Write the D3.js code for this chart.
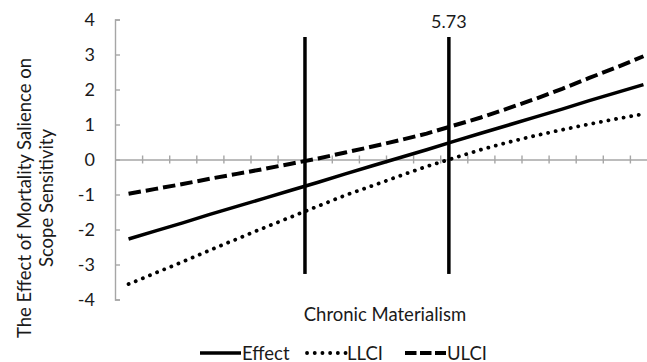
<!doctype html>
<html>
<head>
<meta charset="utf-8">
<style>
  body { margin:0; background:#fff; }
  svg { display:block; }
  text { font-family: Lato, "Liberation Sans", sans-serif; fill:#1a1a1a; }
  .axis path, .axis line { stroke:#a6a6a6; stroke-width:1.4px; }
  .axis text { font-size:18px; }
</style>
<script src="https://cdn.jsdelivr.net/npm/d3@7"></script>
</head>
<body>
<svg id="chart" width="647" height="362"></svg>
<script>
// 20 categories of chronic materialism (by position)
var effect = [-2.27,-2.04,-1.81,-1.57,-1.34,-1.11,-0.88,-0.65,-0.41,-0.18,0.05,0.28,0.52,0.75,0.98,1.21,1.44,1.68,1.91,2.14]
var llci   = [-3.56,-3.24,-2.92,-2.59,-2.27,-1.95,-1.64,-1.33,-1.02,-0.75,-0.47,-0.20,0.04,0.28,0.49,0.68,0.85,1.01,1.16,1.30]
var ulci   = [-0.98,-0.84,-0.70,-0.55,-0.41,-0.27,-0.12,0.03,0.20,0.37,0.55,0.74,0.97,1.20,1.46,1.73,2.02,2.33,2.63,2.95]
var seriesNames = ["Effect", "LLCI", "ULCI"]
var yTicks = [-4,-3,-2,-1,0,1,2,3,4]
// Johnson-Neyman marker lines (category position) and their labels
var jnPos = [7.01, 12.32]
var jnLabels = ["", "5.73"]
var jnRange = [-3.27, 3.5]

var svg = d3.select("#chart")
var x = d3.scaleLinear().domain([0, 20]).range([115, 657])
var y = d3.scaleLinear().domain([-4, 4]).range([299.5, 19.5])

// y axis
var gy = svg.append("g").attr("class","axis")
  .attr("transform","translate(115,0)")
  .call(d3.axisLeft(y).tickValues(yTicks).tickSize(-5).tickSizeOuter(-5).tickPadding(20)
    .tickFormat(function(d){ return String(d) }))
gy.selectAll("text").style("text-anchor","end")

// x axis along zero, ticks crossing the line
var gx = svg.append("g").attr("class","axis")
  .attr("transform","translate(0," + y(0) + ")")
  .call(d3.axisBottom(x).tickValues(d3.range(1, 21)).tickSizeOuter(0).tickFormat(""))
gx.selectAll(".tick line").attr("y1", -4).attr("y2", 4)

// series lines
var line = d3.line().x(function(d,i){ return x(i + 0.5) }).y(function(d){ return y(d) })
var styles = [
  { data: effect, dash: null, cap: "butt", w: 3.5 },
  { data: llci, dash: "0.1 7.6", cap: "round", w: 3.8 },
  { data: ulci, dash: "12.5 5", cap: "butt", w: 4 }
]
styles.forEach(function(s){
  svg.append("path").datum(s.data)
    .attr("d", line)
    .attr("fill","none")
    .attr("stroke","#000")
    .attr("stroke-width", s.w)
    .attr("stroke-linecap", s.cap)
    .attr("stroke-dasharray", s.dash)
})

// vertical marker lines
jnPos.forEach(function(p, i){
  svg.append("line")
    .attr("x1", x(p)).attr("x2", x(p))
    .attr("y1", y(jnRange[0])).attr("y2", y(jnRange[1]))
    .attr("stroke","#000").attr("stroke-width", 3.5)
  if (jnLabels[i]) {
    svg.append("text").attr("x", x(p)).attr("y", 28)
      .attr("text-anchor","middle").style("font-size","18px").text(jnLabels[i])
  }
})

// axis titles
svg.append("text").attr("x", 385).attr("y", 321)
  .attr("text-anchor","middle").style("font-size","18.5px").text("Chronic Materialism")
var yt = svg.append("text").attr("transform","translate(0,198) rotate(-90)")
  .attr("text-anchor","middle").style("font-size","18.5px")
yt.append("tspan").attr("x",0).attr("y",31).text("The Effect of Mortality Salience on")
yt.append("tspan").attr("x",0).attr("y",53).text("Scope Sensitivity")

// legend
var legX = [200, 305, 405]
seriesNames.forEach(function(n, i){
  var s = styles[i]
  svg.append("line")
    .attr("x1", legX[i] + (i == 1 ? 2 : 0)).attr("x2", legX[i] + 41)
    .attr("y1", 353).attr("y2", 353)
    .attr("stroke","#000").attr("stroke-width", s.w)
    .attr("stroke-linecap", s.cap)
    .attr("stroke-dasharray", i == 2 ? "11.5 3.5" : s.dash)
  svg.append("text").attr("x", legX[i] + 42).attr("y", 359.5)
    .style("font-size","18.5px").text(n)
})
</script>
</body>
</html>
